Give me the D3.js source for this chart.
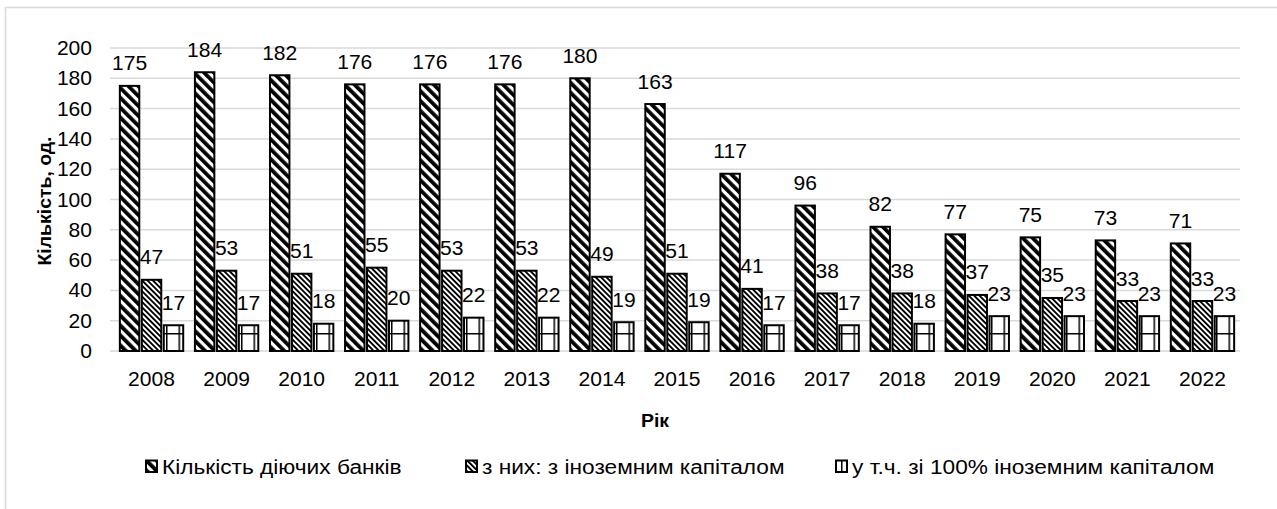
<!DOCTYPE html>
<html>
<head>
<meta charset="utf-8">
<script src="https://cdn.jsdelivr.net/npm/d3@7"></script>
<style>
    body { margin: 0; background: #fff; }
    text { font-family: "Liberation Sans", Arial, sans-serif; fill: #000; }
</style>
</head>
<body>
<div id="chart"></div>
<script>
// data
let years = ["2008", "2009", "2010", "2011", "2012", "2013", "2014", "2015",
    "2016", "2017", "2018", "2019", "2020", "2021", "2022"];
let banksTotal = [175, 184, 182, 176, 176, 176, 180, 163, 117, 96, 82, 77, 75, 73, 71];
let banksForeign = [47, 53, 51, 55, 53, 53, 49, 51, 41, 38, 38, 37, 35, 33, 33];
let banksFull = [17, 17, 18, 20, 22, 22, 19, 19, 17, 17, 18, 23, 23, 23, 23];
let seriesNames = ["Кількість діючих банків", "з них: з іноземним капіталом", "у т.ч. зі 100% іноземним капіталом"];
let yTicks = [0, 20, 40, 60, 80, 100, 120, 140, 160, 180, 200];

let W = 1277, H = 509;
let fontSize = 19.5, stretch = 1.08;

let svg = d3.select("#chart").append("svg")
    .attr("width", W)
    .attr("height", H);

// patterns
let defs = svg.append("defs");

defs.append("pattern")
    .attr("id", "pWide")
    .attr("patternUnits", "userSpaceOnUse")
    .attr("width", 7).attr("height", 7)
    .attr("patternTransform", "rotate(-45)")
    .call(p => {
        p.append("rect").attr("width", 7).attr("height", 7).attr("fill", "#fff");
        p.append("rect").attr("width", 3.8).attr("height", 7).attr("fill", "#000");
    });

defs.append("pattern")
    .attr("id", "pDark")
    .attr("patternUnits", "userSpaceOnUse")
    .attr("width", 3.8).attr("height", 3.8)
    .attr("patternTransform", "rotate(-45)")
    .call(p => {
        p.append("rect").attr("width", 3.8).attr("height", 3.8).attr("fill", "#fff");
        p.append("rect").attr("width", 1.9).attr("height", 3.8).attr("fill", "#000");
    });

defs.append("pattern")
    .attr("id", "pGrid")
    .attr("patternUnits", "userSpaceOnUse")
    .attr("x", 3.5).attr("y", 9)
    .attr("width", 12.5).attr("height", 36)
    .call(p => {
        p.append("rect").attr("width", 12.5).attr("height", 36).attr("fill", "#fff");
        p.append("rect").attr("width", 1.5).attr("height", 36).attr("fill", "#000");
        p.append("rect").attr("width", 12.5).attr("height", 1.5).attr("fill", "#000");
    });

let fills = ["url(#pWide)", "url(#pDark)", "url(#pGrid)"];

// outer frame
svg.append("rect")
    .attr("x", 5.5).attr("y", 7.5)
    .attr("width", W + 10).attr("height", H + 10)
    .attr("fill", "none")
    .attr("stroke", "#d9d9d9")
    .attr("stroke-width", 1.5);

// scales
let x0 = d3.scaleBand()
    .domain(years)
    .range([114, 1240])
    .paddingInner(0.156)
    .paddingOuter(0.078);

let x1 = d3.scaleBand()
    .domain([0, 1, 2])
    .range([0, x0.bandwidth()])
    .paddingInner(0.115);

let y = d3.scaleLinear()
    .domain([0, 200])
    .range([351, 48]);

// helper for slightly widened text
function label(g, txt, x, yPos, anchor, size) {
    return g.append("text")
        .attr("transform", "translate(" + x + "," + yPos + ") scale(" + stretch + ",1)")
        .attr("text-anchor", anchor)
        .style("font-size", (size || fontSize) + "px")
        .text(txt);
}

// gridlines
svg.append("g")
    .selectAll("line")
    .data(yTicks)
    .enter()
    .append("line")
    .attr("x1", 110).attr("x2", 1240)
    .attr("y1", d => y(d)).attr("y2", d => y(d))
    .attr("stroke", "#d9d9d9")
    .attr("stroke-width", 1.5);

// y tick labels
let yLab = svg.append("g");
yTicks.forEach(t => label(yLab, t, 92, y(t) + 7, "end"));

// bars
let series = [banksTotal, banksForeign, banksFull];
let rows = [];
years.forEach((yr, i) => {
    series.forEach((s, k) => rows.push({year: yr, k: k, value: s[i]}));
});

svg.append("g")
    .selectAll("rect")
    .data(rows)
    .enter()
    .append("rect")
    .attr("x", d => x0(d.year) + x1(d.k))
    .attr("y", d => y(d.value))
    .attr("width", x1.bandwidth())
    .attr("height", d => y(0) - y(d.value))
    .attr("fill", d => fills[d.k])
    .attr("stroke", "#000")
    .attr("stroke-width", 2);

// value labels
let vLab = svg.append("g");
rows.forEach(d => {
    label(vLab, d.value, x0(d.year) + x1(d.k) + x1.bandwidth() / 2, y(d.value) - 15.5, "middle");
});

// x labels
let xLab = svg.append("g");
years.forEach(yr => label(xLab, yr, x0(yr) + x0.bandwidth() / 2, 385.7, "middle"));

// axis titles
label(svg, "Рік", 655, 427, "middle", 18).style("font-weight", "bold");

svg.append("text")
    .attr("transform", "translate(51,201) rotate(-90) scale(" + stretch + ",1)")
    .attr("text-anchor", "middle")
    .style("font-size", "18px")
    .style("font-weight", "bold")
    .text("Кількість, од.");

// legend
let legendX = [146, 466, 836];
let legend = svg.append("g");
seriesNames.forEach((name, k) => {
    legend.append("rect")
        .attr("x", legendX[k]).attr("y", 460.5)
        .attr("width", 11).attr("height", 11.5)
        .attr("fill", fills[k])
        .attr("stroke", "#000")
        .attr("stroke-width", 2);
    label(legend, name, legendX[k] + 16, 474, "start", 21);
});
</script>
</body>
</html>
